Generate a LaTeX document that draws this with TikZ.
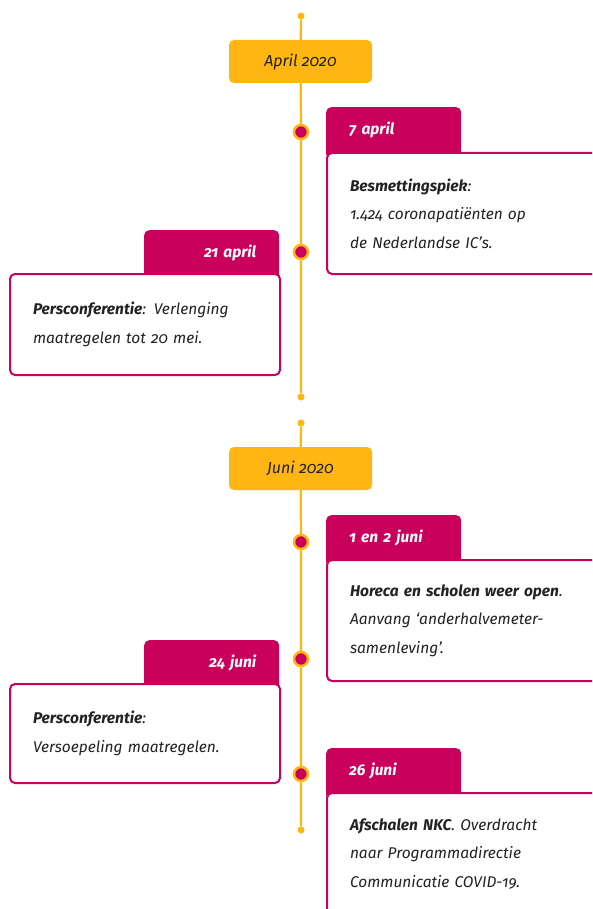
\documentclass[tikz,border=0pt]{standalone}
\usepackage{fontspec}
\setmainfont{Fira Sans}[Numbers=OldStyle]
\definecolor{robijn}{HTML}{CA005D}
\definecolor{donkergeel}{HTML}{FFB612}
\definecolor{tekst}{HTML}{222222}
\tikzset{
  month/.style={fill=donkergeel, rounded corners=5pt, minimum width=143pt, minimum height=43pt,
    text=tekst, font=\fontsize{16}{19}\selectfont\itshape},
  dot/.style={circle, draw=donkergeel, fill=robijn, line width=2.5pt, minimum size=14pt, inner sep=0pt},
  enddot/.style={circle, fill=donkergeel, minimum size=7pt, inner sep=0pt},
  tab/.style={fill=robijn, rounded corners=5pt, minimum width=135pt, minimum height=52pt, anchor=north west,
    text width=89pt, inner xsep=23pt, text height=11pt, text depth=8pt,
    text=white, font=\fontsize{15.5}{18}\selectfont\bfseries\itshape},
  lefttab/.style={tab, align=right},
  righttab/.style={tab, align=left},
  event/.style={fill=white, draw=robijn, line width=2pt, rounded corners=5pt, anchor=north west,
    align=left, inner xsep=23pt, text=tekst, font=\fontsize{15.5}{28.5}\selectfont\itshape},
  leftevent/.style={event, text width=224pt},
  rightevent/.style={event, text width=240pt},
  tijdlijn/.style={draw=donkergeel, line width=2.2pt}
}
\begin{document}
\begin{tikzpicture}[x=1pt, y=-1pt]
  \useasboundingbox (0,0) rectangle (592,909);
  \clip (0,0) rectangle (592,909);
  \draw
    (301,16) node[enddot] (s1){}
    (300.5,61.5) node[month] (apr){April 2020}
    (301,132) node[dot] (d1){}
    (301,252) node[dot] (d2){}
    (301,397) node[enddot] (e1){}
    (301,423) node[enddot] (s2){}
    (300.5,468.5) node[month] (jun){Juni 2020}
    (301,542) node[dot] (d3){}
    (301,659) node[dot] (d4){}
    (301,774) node[dot] (d5){}
    (301,830) node[enddot] (e2){};
  \draw
    (326,107) node[righttab] (t1){7 april}
    (326,152) node[rightevent, minimum height=121pt] (b1){\textbf{Besmettingspiek}:\\1.424 coronapatiënten op\\de Nederlandse IC’s.}
    (144,230) node[lefttab] (t2){21 april}
    (9,273) node[leftevent, minimum height=101pt] (b2){\textbf{Persconferentie}: Verlenging\\maatregelen tot 20 mei.}
    (326,515) node[righttab] (t3){1 en 2 juni}
    (326,559) node[rightevent, minimum height=121pt] (b3){\textbf{Horeca en scholen weer open}.\\Aanvang ‘anderhalvemeter-\\samenleving’.}
    (144,640) node[lefttab] (t4){24 juni}
    (9,683) node[leftevent, minimum height=99pt] (b4){\textbf{Persconferentie}:\\Versoepeling maatregelen.}
    (326,748) node[righttab] (t5){26 juni}
    (326,792) node[rightevent, minimum height=122pt] (b5){\textbf{Afschalen NKC}. Overdracht\\naar Programmadirectie\\Communicatie COVID-19.};
  \begin{scope}[tijdlijn]
    \draw (s1) -- (apr) -- (d1) -- (d2) -- (e1);
    \draw (s2) -- (jun) -- (d3) -- (d4) -- (d5) -- (e2);
  \end{scope}
\end{tikzpicture}
\end{document}
